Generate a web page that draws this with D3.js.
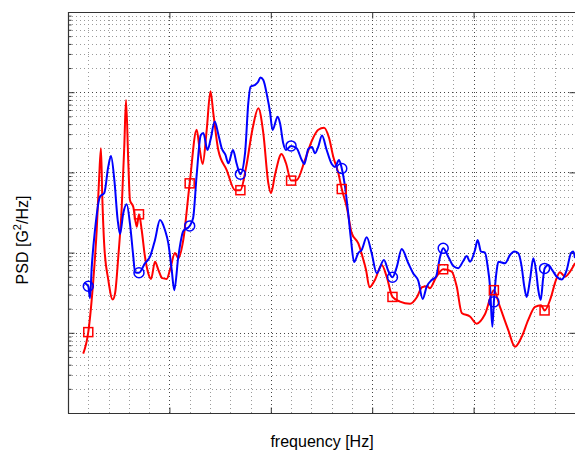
<!DOCTYPE html>
<html><head><meta charset="utf-8">
<script src="https://cdn.jsdelivr.net/npm/d3@7"></script>
<style>body{margin:0;background:#fff}svg{display:block}</style>
</head><body><div id="c"></div>
<script>
const freqRed=[15,20,25,28.3,30.6,32.5,33.8,35.8,39.7,44.1,46.4,49.6,53,55.5,57.2,59.5,61.1,64.4,67.8,70,72.7,75.9,79.2,81.9,85.8,89.1,93,97.3,100.6,105.5,108.8,113.7,120,126.9,129.5,132.8,136.8,140.5,143.3,148.2,156.5,164.7,170,175.5,182.2,187.7,192.6,197.5,200.2,204.1,210.6,215,220,225.5,233.7,240.6,246.8,252.5,257.4,261.6,266.6,270,274.9,279.8,286.3,290,293.9,297.3,302.8,309.4,314.3,320,327.4,337.3,344.2,349.1,354,357,362.9,370,378.4,383.3,388.3,396.4,403,411.2,420,426,434.2,440.8,447.4,453.9,460.6,466.5,470,476.4,480.3,485.2,490.1,495.1,500];
const psdRed=[5.5e-6,1.02e-5,4.6e-5,1.9e-4,8.0e-4,2.0e-3,5.0e-4,1.2e-4,4.6e-5,2.6e-5,3.1e-5,8.9e-5,3.7e-4,2.1e-3,8.0e-3,1.3e-3,4.5e-4,3.7e-4,2.1e-4,3.0e-4,1.9e-4,8.9e-5,5.5e-5,4.7e-5,7.7e-5,6.1e-5,4.8e-5,4.7e-5,6.1e-5,9.9e-5,8.5e-5,1.44e-4,7.3e-4,3.4e-3,2.1e-3,1.27e-3,3.4e-3,1.03e-2,5.5e-3,1.9e-3,1.07e-3,6.0e-4,6.0e-4,1.13e-3,3.6e-3,6.3e-3,3.1e-3,7.4e-4,5.5e-4,9.3e-4,1.7e-3,1.3e-3,7.9e-4,8.0e-4,1.43e-3,2.5e-3,3.4e-3,3.6e-3,2.7e-3,1.57e-3,9.8e-4,6.2e-4,3.7e-4,1.75e-4,1.3e-4,9.3e-5,6.1e-5,3.7e-5,4.6e-5,7.0e-5,5.0e-5,2.8e-5,2.45e-5,2.3e-5,2.8e-5,3.7e-5,3.8e-5,3.6e-5,4.9e-5,6.2e-5,5.8e-5,3.8e-5,1.77e-5,1.6e-5,1.3e-5,1.7e-5,3.4e-5,2.1e-5,1.08e-5,6.7e-6,8.9e-6,1.45e-5,2.1e-5,2.2e-5,1.9e-5,2.8e-5,4.2e-5,5.7e-5,5.0e-5,5.8e-5,7.4e-5];
const freqBlue=[16,20,21.7,23.4,26.6,31.6,35.8,39.7,42.4,45.7,49,51.3,54.5,57.9,61.1,64.4,66.1,70,75.9,80.9,85.8,90.7,95.7,98.9,102.3,104.8,108.8,113.7,120,123.4,126.9,130.9,133.4,137.6,140.7,144.7,148.2,151.6,155.3,158.1,162.7,166.4,170,174.6,177.8,180,184.4,187.4,189.8,192.6,196.5,199.2,201.7,206.8,209.1,212.3,215,220,225.5,230.5,233,237,240.6,243.6,246.8,250.5,255.1,260.1,263.3,267.3,270,273.2,276.2,279.1,282.1,286.3,289.6,294.6,299.5,304.4,311.6,315.9,320,324.2,329.1,335.6,340.5,345.5,349.8,353.7,358.7,362.9,366.9,370,375,380,384.9,389.8,393.2,396.4,401.4,404,407.3,411.2,413.9,416.2,418.5,420,422.8,424.4,431,435.9,440.2,444.1,447.4,450,452.4,455.6,458.9,461.5,463.8,466.2,468.7,470,473.7,477.6,482,486.9,491.8,496,498.3,500];
const psdBlue=[4.2e-5,3.8e-5,2.7e-5,6.6e-5,1.9e-4,5.0e-4,5.55e-4,1.18e-3,1.6e-3,8.05e-4,2.55e-4,1.7e-4,3.1e-4,4.0e-4,2.3e-4,8.9e-5,5.7e-5,5.6e-5,7.36e-5,8.9e-5,1.44e-4,2.55e-4,1.9e-4,1.31e-4,6.05e-5,3.4e-5,8.9e-5,1.86e-4,2.15e-4,2.7e-4,9.3e-4,2.9e-3,3.1e-3,1.9e-3,2.6e-3,4.3e-3,3.0e-3,2.0e-3,1.65e-3,1.3e-3,1.9e-3,1.27e-3,9.5e-4,1.74e-3,7.3e-3,1.17e-2,1.23e-2,1.34e-2,1.53e-2,1.42e-2,8.8e-3,5.7e-3,3.38e-3,4.95e-3,4.1e-3,2.3e-3,1.9e-3,2.14e-3,2.0e-3,1.43e-3,1.27e-3,1.96e-3,2.07e-3,1.73e-3,2.1e-3,2.88e-3,1.9e-3,1.27e-3,1.17e-3,1.43e-3,1.12e-3,6.64e-4,3.21e-4,1.44e-4,7.62e-5,9.9e-5,1.08e-4,1.55e-4,9.8e-5,5.53e-5,8.1e-5,5.9e-5,4.92e-5,6.6e-5,1.11e-4,7.36e-5,5.5e-5,4.42e-5,2.64e-5,3.76e-5,4.56e-5,5.0e-5,8.8e-5,1.13e-4,8.9e-5,6.8e-5,6.4e-5,7.86e-5,9.07e-5,7.7e-5,1.08e-4,1.44e-4,1.03e-4,1.0e-4,6.67e-5,3.76e-5,1.19e-5,2.43e-5,6.05e-5,7.7e-5,7.36e-5,9.33e-5,1.03e-4,9.8e-5,6.67e-5,3.76e-5,2.8e-5,4.56e-5,8.5e-5,6.05e-5,3.42e-5,2.57e-5,4.96e-5,6.35e-5,7.0e-5,6.05e-5,5.0e-5,4.63e-5,6.05e-5,9.8e-5,1.03e-4,8.56e-5];
const markerFreqs=[20,70,120,170,220,270,320,370,420,470];
const xMajorTicks=[0,100,200,300,400,500];
const xMinorTicks=[20,40,60,80,120,140,160,180,220,240,260,280,320,340,360,380,420,440,460,480];
const yDecades=[1e-6,1e-5,1e-4,1e-3,1e-2,1e-1];
const xLabel="frequency [Hz]";

const W=575,H=456;
const L=68,R=575,T=12,B=413;
const x=d3.scaleLinear().domain([0,500]).range([L,R]);
const y=d3.scaleLog().domain([1e-6,1e-1]).range([B,T]);
const yMinor=[];
yDecades.slice(0,-1).forEach(d=>{for(let k=2;k<=9;k++)yMinor.push(d*k);});

const svg=d3.select("#c").append("svg").attr("width",W).attr("height",H);
svg.append("defs").append("clipPath").attr("id","clip").append("rect")
  .attr("x",L).attr("y",T).attr("width",R-L+1).attr("height",B-T);

const grid=svg.append("g");
grid.selectAll(".vm").data(xMinorTicks).join("line")
  .attr("x1",d=>Math.round(x(d))+0.5).attr("x2",d=>Math.round(x(d))+0.5).attr("y1",T).attr("y2",B)
  .attr("stroke","#9a9a9a").attr("stroke-width",1).attr("stroke-dasharray","1,3");
grid.selectAll(".hm").data(yMinor).join("line")
  .attr("y1",d=>Math.round(y(d))+0.5).attr("y2",d=>Math.round(y(d))+0.5).attr("x1",L).attr("x2",R)
  .attr("stroke","#9a9a9a").attr("stroke-width",1).attr("stroke-dasharray","1,3");
grid.selectAll(".vM").data(xMajorTicks.slice(1,-1)).join("line")
  .attr("x1",d=>Math.round(x(d))+0.5).attr("x2",d=>Math.round(x(d))+0.5).attr("y1",T).attr("y2",B)
  .attr("stroke","#444").attr("stroke-width",1).attr("stroke-dasharray","1,3");
grid.selectAll(".hM").data(yDecades.slice(1,-1)).join("line")
  .attr("y1",d=>Math.round(y(d))+0.5).attr("y2",d=>Math.round(y(d))+0.5).attr("x1",L).attr("x2",R)
  .attr("stroke","#444").attr("stroke-width",1).attr("stroke-dasharray","1,3");

const ax=svg.append("g").attr("stroke","#333").attr("stroke-width",1.2);
ax.append("line").attr("x1",L+0.5).attr("x2",L+0.5).attr("y1",T).attr("y2",B+0.5);
ax.append("line").attr("x1",L).attr("x2",W).attr("y1",B+0.5).attr("y2",B+0.5);
ax.append("line").attr("x1",L).attr("x2",W).attr("y1",T+0.5).attr("y2",T+0.5);
const yAxisL=d3.axisLeft(y).tickValues(yDecades.slice(1,-1)).tickSizeInner(-6).tickSizeOuter(0).tickFormat("");
const yAxisR=d3.axisRight(y).tickValues(yDecades.slice(1,-1)).tickSizeInner(-6).tickSizeOuter(0).tickFormat("");
const xAxisB=d3.axisBottom(x).tickValues(xMajorTicks.slice(1,-1)).tickSizeInner(-6).tickSizeOuter(0).tickFormat("");
const xAxisT=d3.axisTop(x).tickValues(xMajorTicks.slice(1,-1)).tickSizeInner(-6).tickSizeOuter(0).tickFormat("");
const styleAx=g=>{g.select(".domain").remove();g.selectAll("line").attr("stroke","#333");};
svg.append("g").attr("transform",`translate(${L+0.5},0)`).call(yAxisL).call(styleAx);
svg.append("g").attr("transform",`translate(${R+0.5},0)`).call(yAxisR).call(styleAx);
svg.append("g").attr("transform",`translate(0,${B+0.5})`).call(xAxisB).call(styleAx);
svg.append("g").attr("transform",`translate(0,${T+0.5})`).call(xAxisT).call(styleAx);
svg.append("g").attr("transform",`translate(${L+0.5},0)`).call(d3.axisLeft(y).tickValues(yMinor).tickSizeInner(-3).tickSizeOuter(0).tickFormat("")).call(styleAx);

const line=d3.line().x(d=>x(d[0])).y(d=>y(d[1])).curve(d3.curveMonotoneX);
const red=freqRed.map((f,i)=>[f,psdRed[i]]);
const blue=freqBlue.map((f,i)=>[f,psdBlue[i]]);
const plot=svg.append("g").attr("clip-path","url(#clip)");
plot.append("path").datum(red).attr("d",line).attr("fill","none").attr("stroke","#ff0000").attr("stroke-width",2);
plot.append("path").datum(blue).attr("d",line).attr("fill","none").attr("stroke","#0000ff").attr("stroke-width",2);
const mr=red.filter(d=>markerFreqs.includes(d[0]));
const mb=blue.filter(d=>markerFreqs.includes(d[0]));
plot.selectAll(".sq").data(mr).join("rect")
  .attr("x",d=>x(d[0])-4.5).attr("y",d=>y(d[1])-4.5).attr("width",9).attr("height",9)
  .attr("fill","none").attr("stroke","#ff0000").attr("stroke-width",1.5);
plot.selectAll(".ci").data(mb).join("circle")
  .attr("cx",d=>x(d[0])).attr("cy",d=>y(d[1])).attr("r",5)
  .attr("fill","none").attr("stroke","#0000ff").attr("stroke-width",1.5);

svg.append("text").attr("x",322).attr("y",447).attr("text-anchor","middle")
  .attr("font-family","Liberation Sans, Arial, sans-serif").attr("font-size",16).text(xLabel);
const yl=svg.append("text").attr("transform",`translate(28,240) rotate(-90)`).attr("text-anchor","middle")
  .attr("font-family","Liberation Sans, Arial, sans-serif").attr("font-size",16);
yl.append("tspan").text("PSD [G");
yl.append("tspan").attr("font-size",11).attr("dy",-7).text("2");
yl.append("tspan").attr("dy",7).text("/Hz]");
</script></body></html>
